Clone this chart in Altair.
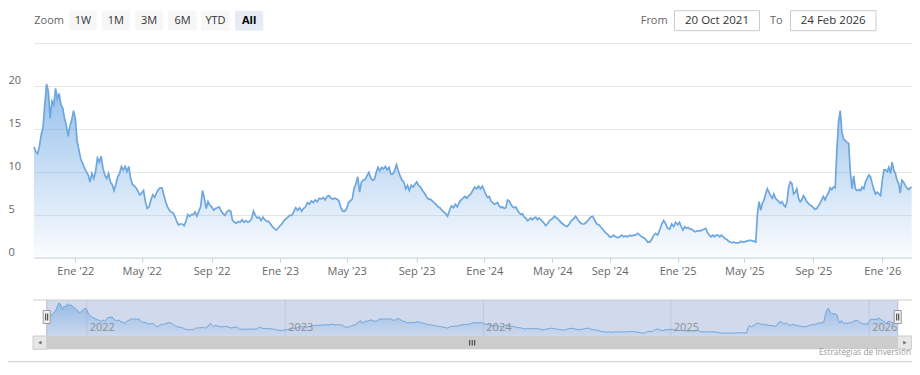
import altair as alt
import pandas as pd

# ---------------- data ----------------
# segment boundaries (these are also the x-axis tick dates, plus start/end)
BOUNDS = ["2021-10-20", "2022-01-01", "2022-05-01", "2022-09-01", "2023-01-01",
          "2023-05-01", "2023-09-01", "2024-01-01", "2024-05-01", "2024-09-01",
          "2025-01-01", "2025-05-01", "2025-09-01", "2026-01-01", "2026-02-24"]

S1 = [12.9, 12.3, 12.1, 12.9, 14.3, 15.1, 17.8, 20.2, 19.3, 16.2, 18.2, 17.8, 19.7, 18.5,
      19.1, 17.8, 17.4, 16.2, 15.4, 14.1, 15.3, 16.0, 17.1]
S2 = [16.2, 13.5, 12.5, 11.4, 11.0, 10.4, 10.0, 9.6, 8.8, 9.8, 9.2, 10.0, 11.6, 11.1, 11.8,
      10.4, 9.6, 9.2, 9.8, 8.8, 8.5, 7.8, 8.5, 9.4, 9.8, 10.6, 10.2, 10.6, 10.0, 10.6, 9.2,
      8.5, 8.3, 8.1, 7.7, 7.3]
S3 = [7.5, 7.8, 6.5, 5.7, 5.9, 6.7, 7.3, 7.0, 7.5, 7.9, 8.1, 8.1, 7.3, 6.5, 5.9, 5.5, 5.3,
      5.2, 4.8, 4.2, 3.8, 3.9, 3.9, 3.7, 4.2, 5.0, 4.8, 5.0, 5.0, 5.3, 4.8, 5.4, 5.9, 7.8,
      6.9, 5.7, 6.5, 6.1]
S4 = [5.9, 5.5, 5.7, 5.8, 5.9, 5.4, 5.1, 4.9, 5.3, 5.5, 5.4, 4.3, 4.1, 4.0, 4.2, 4.1, 4.4,
      4.1, 4.3, 4.1, 4.2, 4.5, 5.4, 4.9, 4.6, 4.7, 4.3, 4.7, 4.4, 4.2, 4.2, 3.9, 3.6, 3.4,
      3.2, 3.4]
S5 = [3.7, 3.9, 4.3, 4.5, 4.7, 4.9, 4.9, 5.3, 5.8, 5.5, 5.8, 5.4, 5.7, 5.9, 6.4, 6.2, 6.6,
      6.4, 6.7, 6.5, 6.9, 6.8, 7.0, 6.7, 7.1, 7.2, 6.9, 6.8, 6.9, 6.8, 6.6, 5.8, 5.4, 5.4]
S6 = [5.7, 6.4, 6.6, 6.8, 8.0, 8.6, 9.4, 7.6, 8.8, 9.0, 9.1, 9.5, 9.9, 9.3, 9.0, 9.1, 9.9,
      10.5, 10.1, 10.5, 10.3, 10.6, 10.2, 10.5, 9.7, 9.7, 10.1, 10.8, 10.1, 9.5, 9.0, 8.8,
      8.0, 8.4, 7.8, 8.4, 8.2, 8.5]
S7 = [8.8, 8.4, 8.2, 7.8, 7.5, 7.1, 6.8, 6.8, 6.6, 6.4, 6.2, 5.9, 5.8, 5.5, 5.3, 5.1, 4.8,
      5.5, 6.0, 5.8, 6.2, 5.9, 6.4, 6.7, 6.9, 7.1, 6.9, 7.2, 7.4, 7.8, 8.2, 8.0, 8.3, 8.0, 8.3]
S8 = [7.8, 7.3, 7.0, 7.1, 6.6, 6.4, 6.2, 6.3, 6.4, 6.0, 5.8, 5.9, 5.7, 5.8, 6.7, 6.6, 6.2,
      5.9, 5.8, 5.9, 5.5, 5.2, 5.0, 5.1, 4.7, 4.6, 4.3, 4.4, 4.6, 4.4, 4.6, 4.7, 4.4, 4.6,
      4.4, 4.2, 4.0, 3.7, 3.9, 4.2, 4.4]
S9 = [4.5, 4.8, 4.6, 4.4, 4.1, 3.9, 3.7, 3.6, 3.9, 4.3, 4.5, 4.8, 4.4, 4.1, 3.9, 3.9, 4.1,
      4.4, 4.7, 4.8, 4.3, 3.9, 3.8, 3.5, 3.2, 2.9, 2.7]
S10 = [2.4, 2.4, 2.6, 2.4, 2.3, 2.4, 2.6, 2.4, 2.5, 2.4, 2.6, 2.5, 2.6, 2.6, 2.8, 2.6, 2.4,
       2.3, 2.1, 1.8, 1.8, 2.1, 2.6, 2.8, 2.6, 3.2, 3.9, 4.3, 3.9, 3.4, 3.3, 3.9, 3.6, 4.1]
S11 = [3.8, 4.1, 3.6, 3.2, 3.6, 3.4, 3.5, 3.3, 3.3, 3.1, 3.0, 3.1, 3.1, 3.1, 3.2, 3.3, 3.4,
       2.9, 2.6, 2.4, 2.6, 2.4, 2.6, 2.6, 2.4, 2.6, 2.4, 2.2, 2.1, 1.9, 1.8, 1.7, 1.8, 1.7,
       1.7, 1.7, 1.9, 1.8]
S12 = [1.8, 1.9, 1.9, 2.0, 2.0, 1.9, 1.9, 1.8, 5.1, 6.5, 5.5, 6.3, 6.7, 7.4, 8.0, 7.6, 7.2,
       6.9, 7.4, 6.9, 6.7, 6.5, 6.3, 6.5, 6.1, 5.9, 6.5, 8.2, 8.8, 8.6, 7.4, 7.6, 8.0, 6.9,
       6.5, 6.7, 7.2, 6.9, 6.5, 6.3, 6.1, 6.0]
S13 = [5.8, 5.6, 5.7, 6.0, 6.3, 6.7, 7.1, 6.7, 7.2, 7.5, 8.1, 7.9, 8.2, 8.1, 12.5, 15.8,
       17.1, 14.6, 13.8, 13.6, 13.4, 13.3, 10.0, 8.0, 9.5, 8.0, 7.8, 7.9, 7.8, 8.2, 8.0, 8.8,
       9.2, 9.6, 9.4, 8.6, 7.9, 7.4, 7.6, 7.4, 7.2]
S14 = [9.0, 10.2, 10.2, 10.0, 10.5, 9.8, 11.1, 10.2, 9.8, 9.0, 8.6, 7.5, 9.0, 8.8, 8.4, 8.1,
       7.9, 8.1, 8.2]
SEGMENTS = [S1, S2, S3, S4, S5, S6, S7, S8, S9, S10, S11, S12, S13, S14]

Y_TICKS = [0, 5, 10, 15, 20, 25]
MONTH_NAMES = {0: "Ene", 4: "May", 8: "Sep"}
NAV_YEARS = ["2022-01-01", "2023-01-01", "2024-01-01", "2025-01-01", "2026-01-01"]
NAV_LABELS = ["2022", "2023", "2024", "2025", "2026"]
ZOOM_BUTTONS = ["1W", "1M", "3M", "6M", "YTD", "All"]
FROM_DATE = "20 Oct 2021"
TO_DATE = "24 Feb 2026"
CREDIT = "Estrategias de Inversión"

# ---------------- layout / style ----------------
FONT = "Open Sans"
W, H = 904, 359
LINE = "#6ea6de"
# ordinal-like (piecewise) pixel positions of the boundary dates
MAIN_X_RANGE = [26, 67.3, 133.7, 203.7, 272, 338.7, 408.7, 476.3, 544.3, 601.7,
                669.7, 736.3, 805.3, 874.3, 903.7]
NAV_X_RANGE = [38.7 + (p - 26) * 0.9696 for p in MAIN_X_RANGE]
MAIN_TOP, MAIN_BOTTOM = 34.75, 249.5
NAV_TOP, NAV_BOTTOM = 292, 328
SB_BOTTOM = 341.3


def ms(s):
    return int(pd.Timestamp(s).value // 10**6)


# ---------------- build the series table ----------------
rows = []
for i, vals in enumerate(SEGMENTS):
    start, end = pd.Timestamp(BOUNDS[i]), pd.Timestamp(BOUNDS[i + 1])
    if i == len(SEGMENTS) - 1:
        dates = pd.date_range(start, end, periods=len(vals))
    else:
        dates = pd.date_range(start, end, periods=len(vals) + 1)[:-1]
    for d, v in zip(dates, vals):
        rows.append({"date": d.strftime("%Y-%m-%d"), "t": int(d.value // 10**6), "value": v})
df = pd.DataFrame(rows)

DOMAIN = [ms(b) for b in BOUNDS]
xs_main = alt.Scale(type="linear", domain=DOMAIN, range=MAIN_X_RANGE, nice=False, zero=False)
ys_main = alt.Scale(domain=[0, 25], range=[MAIN_BOTTOM, MAIN_TOP], nice=False, zero=False)
xs_nav = alt.Scale(type="linear", domain=DOMAIN, range=NAV_X_RANGE, nice=False, zero=False)
ys_nav = alt.Scale(domain=[0, 22], range=[NAV_BOTTOM, NAV_TOP], nice=False, zero=False)

month_expr = ("(utcmonth(datum.value)==0 ? '%s' : (utcmonth(datum.value)==4 ? '%s' : '%s'))"
              % (MONTH_NAMES[0], MONTH_NAMES[4], MONTH_NAMES[8]))
x_axis = alt.Axis(values=DOMAIN[1:-1],
                  labelExpr=month_expr + " + \" '\" + utcFormat(datum.value, '%y')",
                  orient="bottom", offset=-(H - MAIN_BOTTOM), grid=False,
                  domainColor="#ccd6eb", tickColor="#ccd6eb", tickSize=5, labelPadding=3,
                  labelFont=FONT, labelFontSize=11, labelColor="#666666", title=None,
                  labelOverlap=False, labelFlush=False, zindex=1)
y_axis = alt.Axis(values=Y_TICKS, labelExpr="datum.value == 25 ? '' : datum.label",
                  orient="left", offset=-26, grid=True, gridColor="#e6e6e6", domain=False,
                  ticks=False, tickSize=0, labelAlign="left", labelPadding=26,
                  labelOffset=-5, labelBaseline="middle", labelFont=FONT, labelFontSize=11,
                  labelColor="#666666", title=None, labelOverlap=False, labelFlush=False)

main_fill = alt.Gradient(gradient="linear",
                         stops=[alt.GradientStop(color="rgba(110,168,228,0.03)", offset=0),
                                alt.GradientStop(color="rgba(110,168,228,0.72)", offset=1)],
                         x1=1, x2=1, y1=1, y2=0)
nav_fill = alt.Gradient(gradient="linear",
                        stops=[alt.GradientStop(color="rgba(110,168,228,0.05)", offset=0),
                               alt.GradientStop(color="rgba(110,168,228,0.6)", offset=1)],
                        x1=1, x2=1, y1=1, y2=0)

main_area = alt.Chart(df).mark_area(color=main_fill).encode(
    x=alt.X("t:Q", scale=xs_main, axis=x_axis),
    y=alt.Y("value:Q", scale=ys_main, axis=y_axis))
main_line = alt.Chart(df).mark_line(color=LINE, strokeWidth=1.7).encode(
    x=alt.X("t:Q", scale=xs_main, axis=None),
    y=alt.Y("value:Q", scale=ys_main, axis=None))

ONE = pd.DataFrame({"k": [0]})


def box(x0, x1, y0, y1, **kw):
    return alt.Chart(ONE).mark_rect(**kw).encode(
        x=alt.value(x0), x2=alt.value(x1), y=alt.value(y0), y2=alt.value(y1))


def txt(x, y, s, **kw):
    base = dict(font=FONT, fontSize=11, baseline="middle")
    base.update(kw)
    return alt.Chart(ONE).mark_text(**base).encode(
        x=alt.value(x), y=alt.value(y), text=alt.value(s))


def rule(x0, x1, y0, y1, color, w=1):
    return alt.Chart(ONE).mark_rule(color=color, strokeWidth=w).encode(
        x=alt.value(x0), x2=alt.value(x1), y=alt.value(y0), y2=alt.value(y1))


# ---------------- navigator ----------------
years_df = pd.DataFrame({"t": [ms(d) for d in NAV_YEARS], "label": NAV_LABELS})
nav_mask = box(NAV_X_RANGE[0], NAV_X_RANGE[-1], NAV_TOP, NAV_BOTTOM, fill="#6685c2", opacity=0.3)
nav_grid = alt.Chart(years_df).mark_rule(color="#c0c9db", strokeWidth=1).encode(
    x=alt.X("t:Q", scale=xs_nav, axis=None), y=alt.value(NAV_TOP), y2=alt.value(NAV_BOTTOM))
nav_area = alt.Chart(df).mark_area(color=nav_fill).encode(
    x=alt.X("t:Q", scale=xs_nav, axis=None),
    y=alt.Y("value:Q", scale=ys_nav, axis=None))
nav_line = alt.Chart(df).mark_line(color=LINE, strokeWidth=1).encode(
    x=alt.X("t:Q", scale=xs_nav, axis=None),
    y=alt.Y("value:Q", scale=ys_nav, axis=None))
nav_labels = alt.Chart(years_df).mark_text(font=FONT, fontSize=11, color="#8f8f8f",
                                           align="left", baseline="middle", dx=3).encode(
    x=alt.X("t:Q", scale=xs_nav, axis=None), y=alt.value(320.3), text="label:N")
nav_outline = [rule(25, W, NAV_TOP, NAV_TOP, "#cccccc"),
               rule(NAV_X_RANGE[0], NAV_X_RANGE[0], NAV_TOP, NAV_BOTTOM, "#b8bfd0"),
               rule(NAV_X_RANGE[-1], NAV_X_RANGE[-1], NAV_TOP, NAV_BOTTOM, "#b8bfd0")]


def handle(cx):
    return [box(cx - 3.5, cx + 3.5, 302.5, 315.5, fill="#f2f2f2", stroke="#999999", strokeWidth=1),
            rule(cx - 1, cx - 1, 305.5, 312.5, "#333333"),
            rule(cx + 1, cx + 1, 305.5, 312.5, "#333333")]


# ---------------- scrollbar ----------------
thumb_c = (NAV_X_RANGE[0] + NAV_X_RANGE[-1]) / 2
scroll = [box(25, W - 0.3, NAV_BOTTOM, SB_BOTTOM, fill="#f2f2f2"),
          box(NAV_X_RANGE[0], NAV_X_RANGE[-1], NAV_BOTTOM, SB_BOTTOM, fill="#cccccc"),
          box(25, NAV_X_RANGE[0], NAV_BOTTOM, SB_BOTTOM, fill="#e6e6e6", stroke="#cccccc", strokeWidth=1),
          box(NAV_X_RANGE[-1], W - 0.3, NAV_BOTTOM, SB_BOTTOM, fill="#e6e6e6", stroke="#cccccc", strokeWidth=1),
          alt.Chart(ONE).mark_point(shape="triangle-left", filled=True, color="#333333", size=14).encode(
              x=alt.value((25 + NAV_X_RANGE[0]) / 2), y=alt.value((NAV_BOTTOM + SB_BOTTOM) / 2)),
          alt.Chart(ONE).mark_point(shape="triangle-right", filled=True, color="#333333", size=14).encode(
              x=alt.value((NAV_X_RANGE[-1] + W) / 2), y=alt.value((NAV_BOTTOM + SB_BOTTOM) / 2)),
          rule(thumb_c - 2.5, thumb_c - 2.5, 332, 337.5, "#333333"),
          rule(thumb_c, thumb_c, 332, 337.5, "#333333"),
          rule(thumb_c + 2.5, thumb_c + 2.5, 332, 337.5, "#333333")]

# ---------------- range selector ----------------
BTN_X = [(61, 88.7), (93.7, 122), (127, 155.3), (160.3, 188.7), (193, 222), (227, 255.3)]
btn_df = pd.DataFrame({"label": ZOOM_BUTTONS,
                       "x0": [b[0] for b in BTN_X], "x1": [b[1] for b in BTN_X],
                       "xc": [(b[0] + b[1]) / 2 for b in BTN_X],
                       "fill": ["#f7f7f7"] * 5 + ["#e6ebf5"]})
btn_rects = alt.Chart(btn_df).mark_rect(cornerRadius=2).encode(
    x=alt.X("x0:Q", scale=None, axis=None), x2="x1:Q",
    y=alt.value(2.7), y2=alt.value(22.7), color=alt.Color("fill:N", scale=None))
btn_text = alt.Chart(btn_df[btn_df.label != "All"]).mark_text(
    font=FONT, fontSize=11, color="#333333", baseline="middle").encode(
    x=alt.X("xc:Q", scale=None, axis=None), y=alt.value(12.7), text="label:N")
btn_all = alt.Chart(btn_df[btn_df.label == "All"]).mark_text(
    font=FONT, fontSize=11, color="#000000", fontWeight="bold", baseline="middle").encode(
    x=alt.X("xc:Q", scale=None, axis=None), y=alt.value(12.7), text="label:N")

top_ui = [txt(26.3, 12.5, "Zoom", color="#666666", align="left"),
          btn_rects, btn_text, btn_all,
          txt(632.7, 12.5, "From", color="#666666", align="left"),
          box(666.5, 751.5, 2.7, 22.7, fill="#ffffff", stroke="#cccccc", strokeWidth=1),
          txt(709, 12.7, FROM_DATE, color="#333333", align="center", fontSize=11.5),
          txt(762, 12.5, "To", color="#666666", align="left"),
          box(782.5, 868, 2.7, 22.7, fill="#ffffff", stroke="#cccccc", strokeWidth=1),
          txt(825.2, 12.7, TO_DATE, color="#333333", align="center", fontSize=11.5)]

bottom = [rule(0, W, 353.7, 353.7, "#cccccc"),
          txt(903, 345.3, CREDIT, color="#999999", align="right", fontSize=8.3)]

layers = ([main_area, main_line, nav_mask, nav_grid, nav_area, nav_line, nav_labels]
          + nav_outline + scroll + handle(NAV_X_RANGE[0]) + handle(NAV_X_RANGE[-1])
          + top_ui + bottom)

chart = alt.layer(*layers).resolve_scale(x="independent", y="independent").properties(
    width=W, height=H, autosize=alt.AutoSizeParams(type="none"), padding=0
).configure_view(stroke=None)

chart.save("out.html", embed_options={"renderer": "svg", "actions": False})
